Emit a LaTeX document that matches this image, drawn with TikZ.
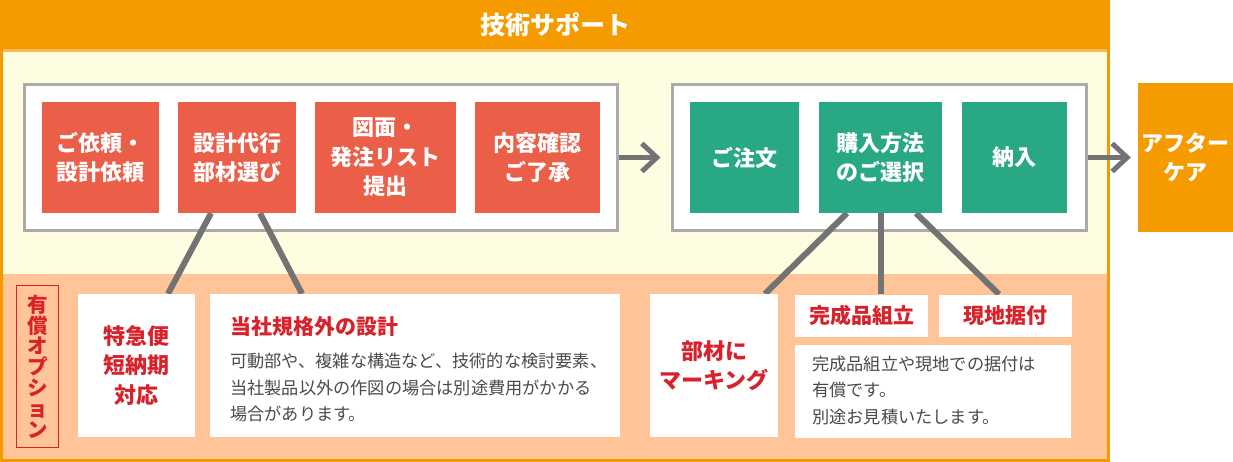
\documentclass[tikz,border=0pt]{standalone}
\usepackage{fontspec}
\setmainfont{Noto Sans CJK JP}
\usetikzlibrary{arrows.meta}
\definecolor{cOrange}{HTML}{F59B00}
\definecolor{cOrangeLt}{HTML}{F9B95A}
\definecolor{cYellow}{HTML}{FFFDE1}
\definecolor{cPeach}{HTML}{FFC598}
\definecolor{cRed}{HTML}{EB5E48}
\definecolor{cGreen}{HTML}{29A886}
\definecolor{cFrame}{HTML}{ABABAB}
\definecolor{cLine}{HTML}{737373}
\definecolor{cRedText}{HTML}{D8222B}
\definecolor{cBody}{HTML}{4A4A4A}
\pgfdeclarelayer{bg}
\pgfdeclarelayer{lin}
\pgfsetlayers{bg,lin,main}
\newcommand{\lblfont}{\fontsize{22}{29.5}\selectfont\bfseries}
\newcommand{\bodyfont}{\fontsize{17.2}{26.5}\selectfont}
\begin{document}
\begin{tikzpicture}[x=1pt,y=-1pt,
  box/.style={inner sep=0pt, align=center, font=\lblfont, anchor=center},
  redbox/.style={box, fill=cRed, text=white},
  greenbox/.style={box, fill=cGreen, text=white},
  orbox/.style={box, fill=cOrange, text=white},
  whitebox/.style={box, fill=white, text=cRedText},
  frame/.style={draw=cFrame, line width=3pt, fill=white, inner sep=0pt},
  conn/.style={draw=cLine, line width=6pt},
  flowarrow/.style={draw=cLine, line width=5pt, -{Straight Barb[length=15pt,width=28pt]}}
]
\useasboundingbox (0,0) rectangle (1233,462);
\begin{pgfonlayer}{bg}
\fill[cOrange] (0,0) rectangle (1110,462);
\fill[cOrangeLt] (3,49) rectangle (1107,52);
\fill[cYellow] (3,52) rectangle (1107,274);
\fill[cPeach] (3,274) rectangle (1107,459);
\node[frame, minimum width=593pt, minimum height=146pt] (lf) at (321,157.5) {};
\node[frame, minimum width=414.5pt, minimum height=146pt] (rf) at (879.25,157.5) {};
\end{pgfonlayer}

\node[font=\fontsize{25}{30}\selectfont\bfseries, text=white, inner sep=0pt] (title) at (555,25) {技術サポート};

% process boxes
\node[redbox, minimum width=117pt, minimum height=111pt] (r1) at (100.5,157.5) {ご依頼・\\設計依頼};
\node[redbox, minimum width=118pt, minimum height=111pt] (r2) at (237,157.5) {設計代行\\部材選び};
\node[redbox, minimum width=141pt, minimum height=111pt] (r3) at (385.5,157.5) {図面・\\発注リスト\\提出};
\node[redbox, minimum width=125pt, minimum height=111pt] (r4) at (537.5,157.5) {内容確認\\ご了承};

\node[greenbox, minimum width=109pt, minimum height=111pt] (g1) at (744.5,157.5) {ご注文};
\node[greenbox, minimum width=123pt, minimum height=111pt] (g2) at (880.5,157.5) {購入方法\\のご選択};
\node[greenbox, minimum width=105pt, minimum height=111pt] (g3) at (1014.5,157.5) {納入};

\node[orbox, minimum width=95pt, minimum height=149pt] (ac) at (1185.5,157.5) {アフター\\ケア};

% options
\node[draw=cRedText, line width=1.2pt, inner sep=0pt, minimum width=42pt, minimum height=162pt,
      align=center, text=cRedText, font=\fontsize{20.5}{20.8}\selectfont\bfseries] (opt) at (37.5,366.5)
      {有\\償\\オ\\プ\\シ\\ョ\\ン};
\node[whitebox, minimum width=117pt, minimum height=143pt] (tk) at (136.5,365.5) {特急便\\短納期\\対応};
\node[whitebox, minimum width=410pt, minimum height=143pt] (big) at (415,365.5) {};
\node[anchor=west, inner sep=0pt, text=cRedText, font=\fontsize{21}{26}\selectfont\bfseries] (bigt) at (230,327) {当社規格外の設計};
\node[anchor=west, inner sep=0pt, text=cBody, font=\bodyfont, align=left] (bigb) at (230,387.5)
  {可動部や、複雑な構造など、技術的な検討要素、\\当社製品以外の作図の場合は別途費用がかかる\\場合があります。};
\node[whitebox, minimum width=128pt, minimum height=143pt] (mk) at (714,365.5) {部材に\\マーキング};
\node[whitebox, minimum width=133pt, minimum height=42pt, font=\fontsize{21}{26}\selectfont\bfseries] (ks) at (861.5,315.5) {完成品組立};
\node[whitebox, minimum width=133pt, minimum height=42pt, font=\fontsize{21}{26}\selectfont\bfseries] (gc) at (1005.5,315.5) {現地据付};
\node[whitebox, minimum width=276pt, minimum height=93pt] (tx) at (933,391.5) {};
\node[anchor=west, inner sep=0pt, text=cBody, font=\bodyfont, align=left] (txb) at (812,390)
  {完成品組立や現地での据付は\\有償です。\\別途お見積いたします。};

\begin{pgfonlayer}{lin}
\draw[conn] ([xshift=-26pt]r2.south) -- ([xshift=31.5pt]tk.north);
\draw[conn] ([xshift=23pt]r2.south) -- ([xshift=-113pt]big.north);
\draw[conn] ([xshift=-33.5pt]g2.south) -- ([xshift=51pt]mk.north);
\draw[conn] ([xshift=0.5pt]g2.south) -- ([xshift=19.5pt]ks.north);
\draw[conn] ([xshift=35.5pt]g2.south) -- ([xshift=-6.5pt]gc.north);
\draw[flowarrow, shorten >=10pt] (lf.east) -- (rf.west);
\draw[flowarrow, shorten >=7pt] (rf.east) -- (ac.west);
\end{pgfonlayer}
\end{tikzpicture}
\end{document}
